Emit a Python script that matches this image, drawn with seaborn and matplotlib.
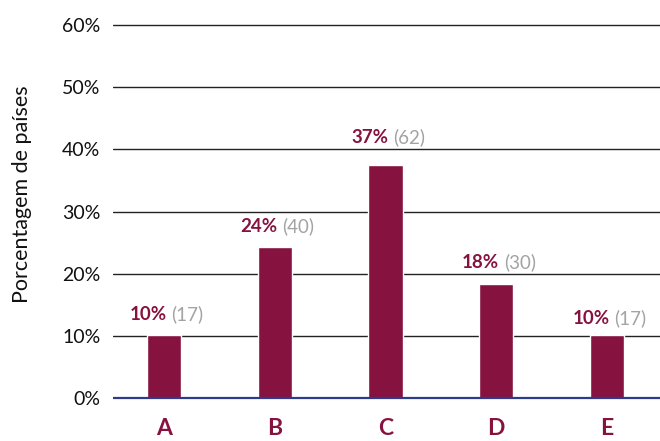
import matplotlib
matplotlib.use("Agg")
import matplotlib.pyplot as plt
import seaborn as sns
import pandas as pd

categories = ["A", "B", "C", "D", "E"]
percent_values = [10.1, 24.3, 37.5, 18.3, 10.1]
percent_labels = ["10%", "24%", "37%", "18%", "10%"]
count_labels = ["(17)", "(40)", "(62)", "(30)", "(17)"]
y_ticks = [0, 10, 20, 30, 40, 50, 60]
y_tick_labels = ["0%", "10%", "20%", "30%", "40%", "50%", "60%"]

sns.set_theme(style="white")
plt.rcParams["font.family"] = ["Lato", "DejaVu Sans"]

BAR = "#86123F"
GRAY = "#A3A3A3"
NAVY = "#2E3A8C"

# vertical gap (points) between bar top and its label, as placed in the original
label_gaps = [11, 11, 16, 11.5, 8]

df = pd.DataFrame({"cat": categories, "val": percent_values})

fig = plt.figure(figsize=(6.6, 4.41), dpi=100)
ax = fig.add_axes([113 / 660, 1 - 401.1 / 441, 547 / 660, 382.3 / 441])

sns.barplot(data=df, x="cat", y="val", color=BAR, width=0.31, saturation=1,
            ax=ax, zorder=3)

ax.set_xlim(-0.46, 4.48)
ax.set_ylim(-0.5, 61)
ax.set_yticks(y_ticks)
ax.set_yticklabels(y_tick_labels, fontsize=14, color="#111111")
for y in y_ticks[1:]:
    ax.axhline(y, color="#222222", lw=1.0, zorder=1)
ax.axhline(0, color=NAVY, lw=1.6, zorder=4)

for s in ax.spines.values():
    s.set_visible(False)
ax.tick_params(axis="y", length=0, pad=9)
ax.tick_params(axis="x", length=0, pad=12)
for t in ax.get_xticklabels():
    t.set_fontsize(16.5)
    t.set_fontweight("bold")
    t.set_color(BAR)
ax.set_xlabel("")
ax.set_ylabel("Porcentagem de países", fontsize=15.5, color="#111111")
ax.yaxis.set_label_coords(-0.148, 0.54)

for i, (v, p, c, g) in enumerate(zip(percent_values, percent_labels,
                                     count_labels, label_gaps)):
    ax.annotate(p, xy=(i, v), xytext=(2, g), textcoords="offset points",
                ha="right", va="baseline", fontsize=13.5, fontweight="bold",
                color=BAR)
    ax.annotate(c, xy=(i, v), xytext=(5.5, g), textcoords="offset points",
                ha="left", va="baseline", fontsize=13.5, color=GRAY)

fig.savefig("out.png", dpi=100)
